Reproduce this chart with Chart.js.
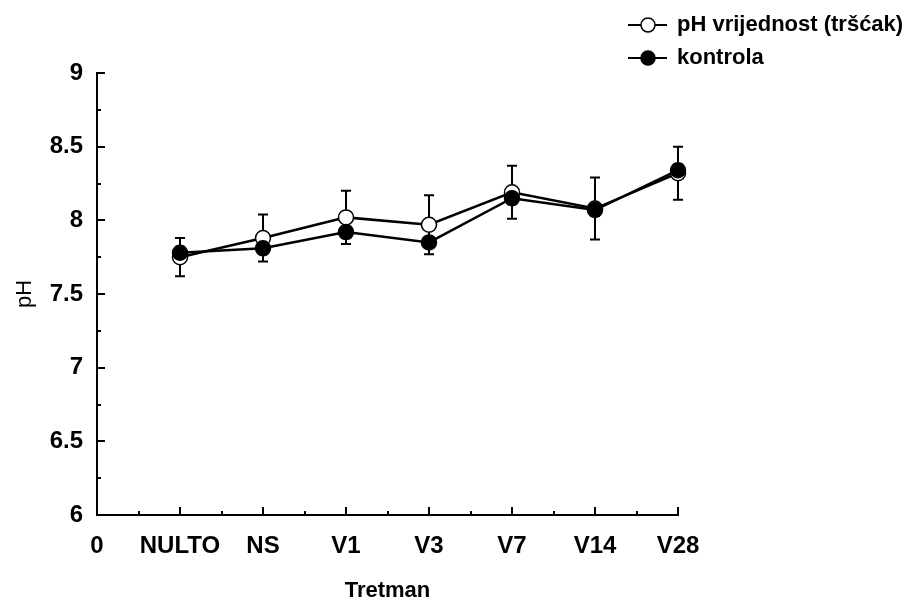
<!DOCTYPE html>
<html>
<head>
<meta charset="utf-8">
<script src="https://cdn.jsdelivr.net/npm/chart.js@4.4.1/dist/chart.umd.min.js"></script>
<style>
    html, body { margin: 0; padding: 0; background: #fff; }
    #wrap { width: 912px; height: 602px; position: relative; }
</style>
</head>
<body>
<div id="wrap"><canvas id="ph-canvas"></canvas></div>
<script>
'use strict';

let xLabels = ['0', 'NULTO', 'NS', 'V1', 'V3', 'V7', 'V14', 'V28'],
    seriesNames = ['pH vrijednost (tršćak)', 'kontrola'],
    phTrscak = [7.75, 7.88, 8.02, 7.97, 8.19, 8.08, 8.32],
    phTrscakErr = [0.13, 0.16, 0.18, 0.20, 0.18, 0.21, 0.18],
    kontrola = [7.78, 7.81, 7.92, 7.85, 8.15, 8.07, 8.34],
    kontrolaErr = [0.04, 0.03, 0.04, 0.03, 0.04, 0.04, 0.04];

const FONT = "'Liberation Sans', Arial, sans-serif";

//Points sit on x = 1..7, x = 0 is the empty "0" slot
function toPoints(values) {
    return values.map((v, i) => ({x: i + 1, y: v}));
}

//Error bars under the markers
const errorBars = {
    id: 'errorBars',
    beforeDatasetsDraw(chart) {
        let ctx = chart.ctx,
            xs = chart.scales.x,
            ys = chart.scales.y;
        ctx.save();
        ctx.strokeStyle = '#000';
        ctx.lineWidth = 2;
        chart.data.datasets.forEach(ds => {
            ds.errors.forEach((e, i) => {
                let v = ds.data[i].y,
                    x = xs.getPixelForValue(ds.data[i].x),
                    yt = ys.getPixelForValue(v + e),
                    yb = ys.getPixelForValue(v - e);
                ctx.beginPath();
                ctx.moveTo(x, yt); ctx.lineTo(x, yb);
                ctx.moveTo(x - 5, yt); ctx.lineTo(x + 5, yt);
                ctx.moveTo(x - 5, yb); ctx.lineTo(x + 5, yb);
                ctx.stroke();
            });
        });
        ctx.restore();
    }
};

//Inward major and minor ticks, like the original
const innerTicks = {
    id: 'innerTicks',
    afterDraw(chart) {
        let ctx = chart.ctx,
            xs = chart.scales.x,
            ys = chart.scales.y,
            area = chart.chartArea;
        ctx.save();
        ctx.strokeStyle = '#000';
        ctx.lineWidth = 2;
        ctx.beginPath();
        for (let v = ys.min; v <= ys.max + 1e-9; v += 0.25) {
            let y = Math.round(ys.getPixelForValue(v)),
                len = Math.abs(v * 2 - Math.round(v * 2)) < 1e-6 ? 8 : 4;
            ctx.moveTo(area.left, y); ctx.lineTo(area.left + len, y);
        }
        for (let v = xs.min; v <= xs.max + 1e-9; v += 0.5) {
            let x = Math.round(xs.getPixelForValue(v)),
                len = Math.abs(v - Math.round(v)) < 1e-6 ? 8 : 4;
            ctx.moveTo(x, area.bottom); ctx.lineTo(x, area.bottom - len);
        }
        ctx.stroke();
        ctx.restore();
    }
};

//Legend in the top right corner: line with the marker, then the name
const lineLegend = {
    id: 'lineLegend',
    afterDraw(chart) {
        let ctx = chart.ctx,
            items = chart.data.datasets.slice().reverse();
        ctx.save();
        items.forEach((ds, i) => {
            let y = 25 + i * 33;
            ctx.strokeStyle = '#000';
            ctx.lineWidth = 2;
            ctx.beginPath();
            ctx.moveTo(628, y); ctx.lineTo(667, y);
            ctx.stroke();
            ctx.beginPath();
            ctx.arc(648, y, 7, 0, Math.PI * 2);
            ctx.fillStyle = ds.pointBackgroundColor;
            ctx.fill();
            ctx.lineWidth = 1.5;
            ctx.stroke();
            ctx.fillStyle = '#000';
            ctx.font = 'bold 22px ' + FONT;
            ctx.textBaseline = 'middle';
            ctx.fillText(ds.label, 677, y);
        });
        ctx.restore();
    }
};

new Chart(document.getElementById('ph-canvas'), {
    type: 'line',
    data: {
        datasets: [{
            label: seriesNames[1],
            data: toPoints(kontrola),
            errors: kontrolaErr,
            borderColor: '#000',
            borderWidth: 2.5,
            pointRadius: 7.5,
            pointBorderWidth: 1.5,
            pointBorderColor: '#000',
            pointBackgroundColor: '#000'
        }, {
            label: seriesNames[0],
            data: toPoints(phTrscak),
            errors: phTrscakErr,
            borderColor: '#000',
            borderWidth: 2.5,
            pointRadius: 7.5,
            pointBorderWidth: 1.5,
            pointBorderColor: '#000',
            pointBackgroundColor: '#fff'
        }]
    },
    options: {
        responsive: true,
        maintainAspectRatio: false,
        animation: false,
        clip: false,
        layout: {
            padding: {top: 73, right: 234, left: 0, bottom: 0}
        },
        plugins: {
            legend: {display: false},
            tooltip: {enabled: false}
        },
        scales: {
            x: {
                type: 'linear',
                min: 0,
                max: 7,
                afterFit: scale => { scale.height = 87; },
                grid: {display: false, drawTicks: false},
                border: {display: true, color: '#000', width: 2},
                ticks: {
                    stepSize: 1,
                    autoSkip: false,
                    maxRotation: 0,
                    padding: 17,
                    color: '#000',
                    font: {family: FONT, size: 24, weight: 'bold'},
                    callback: v => xLabels[v]
                },
                title: {
                    display: true,
                    text: 'Tretman',
                    color: '#000',
                    padding: {top: 0, bottom: -2},
                    font: {family: FONT, size: 22, weight: 'bold'}
                }
            },
            y: {
                min: 6,
                max: 9,
                afterFit: scale => { scale.width = 97; },
                grid: {display: false, drawTicks: false},
                border: {display: true, color: '#000', width: 2},
                ticks: {
                    stepSize: 0.5,
                    padding: 14,
                    color: '#000',
                    font: {family: FONT, size: 24, weight: 'bold'},
                    callback: v => String(v)
                },
                title: {
                    display: true,
                    text: 'pH',
                    color: '#000',
                    padding: {top: 12, bottom: 0},
                    font: {family: FONT, size: 22, weight: 'normal'}
                }
            }
        }
    },
    plugins: [errorBars, innerTicks, lineLegend]
});
</script>
</body>
</html>
